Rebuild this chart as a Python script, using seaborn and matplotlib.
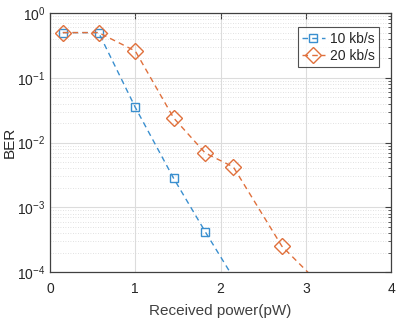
import numpy as np
import pandas as pd
import matplotlib
matplotlib.use("Agg")
import matplotlib.pyplot as plt
import seaborn as sns
from matplotlib.ticker import LogLocator, FixedLocator

power_10 = [0.15, 0.57, 1.0, 1.45, 1.82, 2.25]
ber_10 = [0.5, 0.5, 0.035, 0.0028, 0.00042, 0.00005]

power_20 = [0.15, 0.57, 1.0, 1.45, 1.82, 2.15, 2.72, 3.25]
ber_20 = [0.5, 0.5, 0.26, 0.024, 0.0069, 0.0042, 0.00025, 0.00005]

labels = ["10 kb/s", "20 kb/s"]
colors = ["#3a8fcf", "#e0703c"]

sns.set_style("white")
plt.rcParams['font.family'] = ['Liberation Sans', 'DejaVu Sans']
plt.rcParams['mathtext.fontset'] = 'custom'
plt.rcParams['mathtext.rm'] = 'Liberation Sans'

fig = plt.figure(figsize=(3.97, 3.2), dpi=100)
ax = fig.add_axes([0.126, 0.15, 0.859, 0.809])

df10 = pd.DataFrame({"power": power_10, "ber": ber_10})
df20 = pd.DataFrame({"power": power_20, "ber": ber_20})

sns.lineplot(data=df10, x="power", y="ber", ax=ax, color=colors[0],
             linestyle=(0, (4, 3)), linewidth=1.0, marker="s", markersize=6,
             markerfacecolor="none", markeredgecolor=colors[0], markeredgewidth=1.0,
             label=labels[0], sort=False)
sns.lineplot(data=df20, x="power", y="ber", ax=ax, color=colors[1],
             linestyle=(0, (4, 3)), linewidth=1.0, marker="D", markersize=8,
             markerfacecolor="none", markeredgecolor=colors[1], markeredgewidth=1.0,
             label=labels[1], sort=False)

ax.set_yscale("log")
ax.set_xlim(0, 4)
ax.set_ylim(1e-4, 1)
ax.xaxis.set_major_locator(FixedLocator([0, 1, 2, 3, 4]))
ax.yaxis.set_major_locator(LogLocator(base=10, numticks=10))
ax.yaxis.set_minor_locator(LogLocator(base=10, subs=np.arange(2, 10), numticks=20))
ax.xaxis.set_minor_locator(FixedLocator([]))

ax.grid(True, which="major", color="#dcdcdc", linewidth=0.8)
ax.grid(True, which="minor", axis="y", color="#d8d8d8", linestyle=(0, (1, 2)), linewidth=0.6)
ax.set_axisbelow(True)

for s in ax.spines.values():
    s.set_color("#404040")
    s.set_linewidth(0.9)
ax.tick_params(which="both", direction="in", top=True, right=True, colors="#404040",
               labelsize=10, labelcolor="#262626")
ax.tick_params(which="major", length=4)
ax.tick_params(which="minor", length=2)
ax.tick_params(axis="x", pad=7)

ax.set_xlabel("Received power(pW)", fontsize=11, color="#404040", labelpad=6)
ax.set_ylabel("BER", fontsize=11, color="#262626", labelpad=0)

leg = ax.legend(loc="upper right", bbox_to_anchor=(0.965, 0.945), fontsize=10,
                frameon=True, fancybox=False, borderpad=0.3, handlelength=1.6,
                handletextpad=0.4, labelspacing=0.25, borderaxespad=0)
leg.get_frame().set_edgecolor("#262626")
leg.get_frame().set_linewidth(0.8)

fig.savefig("out.png", dpi=100)
